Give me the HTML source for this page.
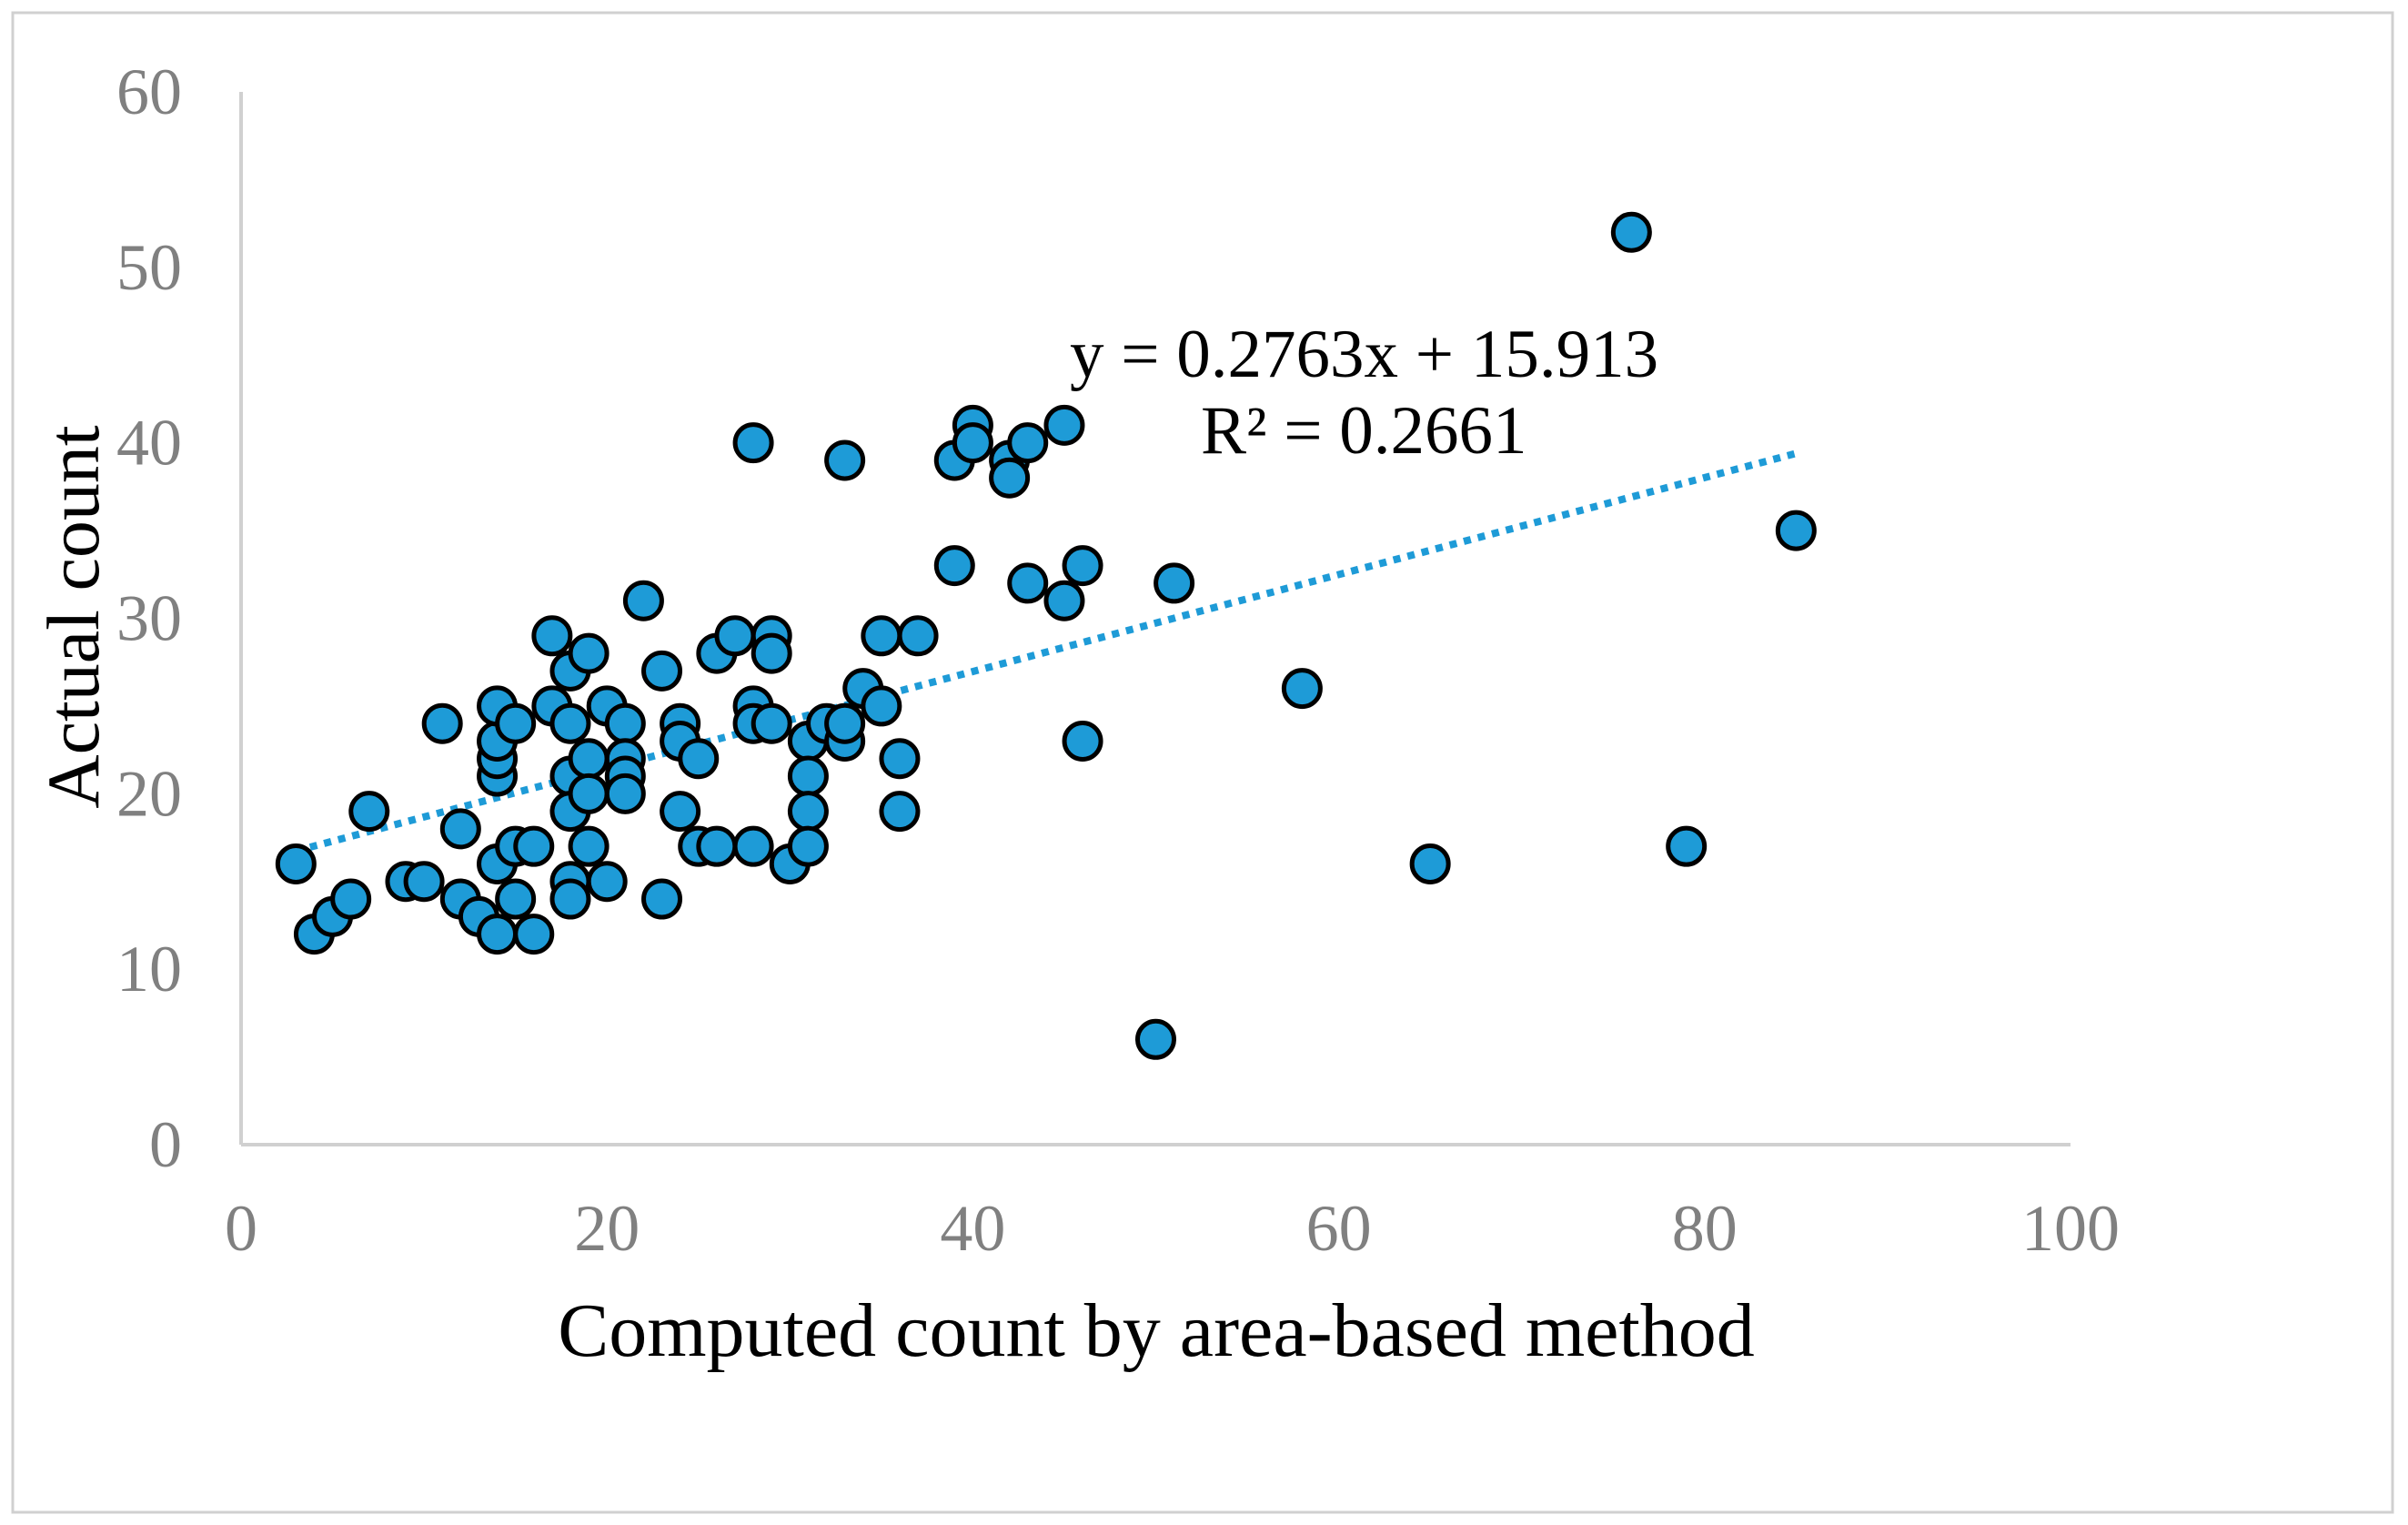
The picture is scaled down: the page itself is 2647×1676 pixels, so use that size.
<!DOCTYPE html>
<html><head><meta charset="utf-8"><style>
html,body{margin:0;padding:0;background:#fff;}
svg{display:block;}
text{font-family:"Liberation Serif",serif;}
</style></head><body>
<svg id="chart" width="2647" height="1676" viewBox="0 0 2647 1676">
<rect x="14" y="14" width="2616" height="1648" fill="#fff" stroke="#d0d0d0" stroke-width="3"/>
<g id="axes"></g>
<g id="trend"></g>
<g id="points"></g>
<text x="1176" y="414" font-size="75" fill="#000">y = 0.2763x + 15.913</text>
<text x="1320" y="498" font-size="75" fill="#000">R² = 0.2661</text>
<text x="1271" y="1490" font-size="84" text-anchor="middle" fill="#000">Computed count by area-based method</text>
<text transform="translate(108,678) rotate(-90)" font-size="82" text-anchor="middle" fill="#000">Actual count</text>
</svg>
<script>
const xTicks=[0,20,40,60,80,100];
const yTicks=[0,10,20,30,40,50,60];
const xVals=[3,4,5,6,7,9,10,11,12,12,13,14,14,14,14,14,14,15,15,15,16,16,17,17,18,18,18,18,18,18,19,19,19,19,20,20,21,21,21,21,22,23,23,24,24,24,25,25,26,26,27,28,28,28,28,29,29,29,30,31,31,31,31,32,33,33,33,34,35,35,36,36,37,39,39,40,40,42,42,43,43,45,45,46,46,50,51,58,65,76,79,85];
const yVals=[16,12,13,14,19,15,15,24,18,14,13,12,16,21,22,23,25,24,17,14,17,12,29,25,27,24,21,19,15,14,28,22,20,17,25,15,24,22,21,20,31,27,14,24,23,19,22,17,28,17,29,40,25,24,17,29,28,24,16,23,21,19,17,24,39,23,24,26,29,25,22,19,29,39,33,41,40,39,38,40,32,41,31,33,23,6,32,26,16,52,17,35];
const slope=0.2763, intercept=15.913;
const NS="http://www.w3.org/2000/svg";
const X0=265,X1=2276,Y0=1258,Y1=101;
function sx(v){return X0+(X1-X0)*v/100;}
function sy(v){return Y0-(Y0-Y1)*v/60;}
function mk(tag,attrs,parent){const e=document.createElementNS(NS,tag);for(const k in attrs)e.setAttribute(k,attrs[k]);parent.appendChild(e);return e;}
const axes=document.getElementById('axes');
let a=mk('line',{x1:X0,y1:Y1,x2:X0,y2:Y0,stroke:'#d0d0d0','stroke-width':4},axes);


a=mk('line',{x1:X0,y1:Y0,x2:X1,y2:Y0,stroke:'#d0d0d0','stroke-width':4},axes);


xTicks.forEach(t=>{const e=mk('text',{x:sx(t),y:1374,'font-size':72,fill:'#808080','text-anchor':'middle'},axes);e.textContent=t;

});
yTicks.forEach(t=>{const e=mk('text',{x:200,y:sy(t)+24,'font-size':72,fill:'#808080','text-anchor':'end'},axes);e.textContent=t;

});
const xmin=Math.min(...xVals),xmax=Math.max(...xVals);
const tl=mk('line',{x1:sx(xmin),y1:sy(slope*xmin+intercept),x2:sx(xmax),y2:sy(slope*xmax+intercept),stroke:'#1e9bd7','stroke-width':8,'stroke-dasharray':'8 8'},document.getElementById('trend'));


const pg=document.getElementById('points');
xVals.forEach((x,i)=>{const c=mk('circle',{cx:sx(x),cy:sy(yVals[i]),r:20,fill:'#1e9bd7',stroke:'#000','stroke-width':5},pg);

});
</script>
</body></html>
